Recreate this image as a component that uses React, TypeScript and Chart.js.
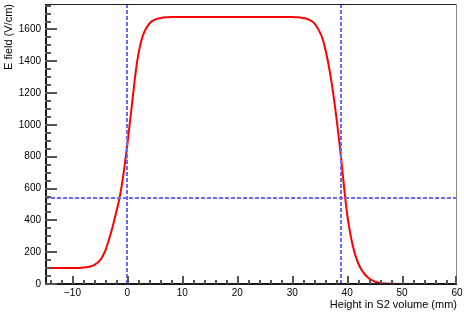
import React, { useEffect, useRef } from "react";
import { Chart, registerables } from "chart.js";

Chart.register(...registerables);

// Field profile (x in mm, E in V/cm)
const heightMm = [-15, -12, -10, -9, -8, -7, -6, -5, -4.5, -4, -3.5, -3, -2.5, -2, -1.5, -1, -0.5, 0, 0.5, 1, 1.5, 2, 2.5, 3, 3.5, 4, 4.5, 5, 6, 7, 8, 10, 15, 20, 25, 28, 30, 31, 32, 33, 34, 35, 35.5, 36, 36.5, 37, 37.5, 38, 38.5, 39, 39.5, 40, 40.5, 41, 41.5, 42, 42.5, 43, 43.5, 44, 44.5, 45, 46, 47, 48, 50, 55, 60];
const fieldVcm = [100, 100, 100, 101, 103, 108, 120, 148, 175, 212, 262, 320, 385, 455, 530, 625, 745, 880, 1030, 1180, 1330, 1445, 1525, 1578, 1612, 1637, 1652, 1662, 1671, 1676, 1678, 1679, 1679, 1679, 1679, 1679, 1678, 1676, 1671, 1662, 1640, 1585, 1545, 1480, 1400, 1302, 1190, 1060, 915, 760, 590, 440, 330, 245, 180, 132, 96, 70, 50, 35, 24, 16, 7, 3, 1, 0, 0, 0];

// Reference marker lines
const markerX = [0, 38.8];
const markerY = [543];

// Axes
const xMin = -15;
const xMax = 60;
const yMin = 0;
const yMax = 1760;
const xTickValues = [-10, 0, 10, 20, 30, 40, 50, 60];
const xTickLabels = ["\u221210", "0", "10", "20", "30", "40", "50", "60"];
const yTickValues = [0, 200, 400, 600, 800, 1000, 1200, 1400, 1600];
const yTickLabels = ["0", "200", "400", "600", "800", "1000", "1200", "1400", "1600"];
const xMinorTicks = [-14, -12, -10, -8, -6, -4, -2, 0, 2, 4, 6, 8, 10, 12, 14, 16, 18, 20, 22, 24, 26, 28, 30, 32, 34, 36, 38, 40, 42, 44, 46, 48, 50, 52, 54, 56, 58, 60];
const yMinorTicks = [0, 50, 100, 150, 200, 250, 300, 350, 400, 450, 500, 550, 600, 650, 700, 750, 800, 850, 900, 950, 1000, 1050, 1100, 1150, 1200, 1250, 1300, 1350, 1400, 1450, 1500, 1550, 1600, 1650, 1700, 1750];
const xTitle = "Height in S2 volume (mm)";
const yTitle = "E field (V/cm)";

const FONT = "'Liberation Sans', Arial, Helvetica, sans-serif";

function drawOverlay(chart: any) {
  const ctx: CanvasRenderingContext2D = chart.ctx;
  const ca = chart.chartArea;
  const xs = chart.scales["x"];
  const ys = chart.scales["y"];
  const L = Math.round(ca.left);
  const R = Math.round(ca.right);
  const T = Math.round(ca.top);
  const B = Math.round(ca.bottom);
  ctx.save();
  ctx.setLineDash([]);
  ctx.globalAlpha = 1;

  // dashed marker lines
  ctx.fillStyle = "rgb(105,105,255)";
  const dash = 4;
  const gap = 2;
  markerX.forEach((mx) => {
    const px = Math.round(xs.getPixelForValue(mx)) - 1;
    for (let y = T; y < B; y += dash + gap) {
      ctx.fillRect(px, y, 2, Math.min(dash, B - y));
    }
  });
  markerY.forEach((my) => {
    const py = Math.round(ys.getPixelForValue(my)) - 1;
    for (let x = L; x < R; x += dash + gap) {
      ctx.fillRect(x, py, Math.min(dash, R - x), 2);
    }
  });

  // frame
  ctx.fillStyle = "#222222";
  ctx.fillRect(L, T, R - L, 1);
  ctx.fillStyle = "#888888";
  ctx.fillRect(R - 1, T, 1, B - T);
  ctx.fillStyle = "#1a1a1a";
  ctx.fillRect(L, T, 2, B - T + 1);
  ctx.fillRect(L, B - 1, R - L, 2);

  // inward tick marks
  ctx.fillStyle = "#555555";
  for (let i = 0; i < xMinorTicks.length; i++) {
    const v = xMinorTicks[i];
    const px = Math.round(xs.getPixelForValue(v));
    const len = xTickValues.indexOf(v) >= 0 ? 8 : 4;
    ctx.fillRect(Math.min(px, R - 2), B - len, 2, len);
  }
  for (let i = 0; i < yMinorTicks.length; i++) {
    const v = yMinorTicks[i];
    const py = Math.round(ys.getPixelForValue(v));
    const len = yTickValues.indexOf(v) >= 0 ? 12 : 6;
    ctx.fillRect(L, py - 1, len, 2);
  }
  ctx.restore();
}

const overlayPlugin = {
  id: "rootOverlay",
  afterDraw(chart: any) {
    drawOverlay(chart);
  },
};

export default function App() {
  const ref = useRef<HTMLCanvasElement | null>(null);

  useEffect(() => {
    document.body.style.margin = "0";
    const canvas = ref.current;
    if (!canvas) return;

    const curve = heightMm.map((x, i) => ({ x, y: fieldVcm[i] }));

    const chart = new Chart(canvas, {
      type: "line",
      data: {
        datasets: [
          {
            data: curve,
            borderColor: "#ff0000",
            borderWidth: 2,
            pointRadius: 0,
            fill: false,
            cubicInterpolationMode: "monotone",
          },
        ] as any,
      },
      options: {
        animation: false,
        responsive: false,
        maintainAspectRatio: false,
        devicePixelRatio: 1,
        layout: { padding: { left: 0, right: 7, top: 4, bottom: 0 } },
        plugins: {
          legend: { display: false },
          tooltip: { enabled: false },
        },
        scales: {
          x: {
            type: "linear",
            min: xMin,
            max: xMax,
            grid: { display: false, drawTicks: false, tickLength: 0 },
            border: { display: false },
            afterBuildTicks: (s: any) => {
              s.ticks = xTickValues.map((v) => ({ value: v }));
            },
            afterFit: (s: any) => {
              s.height = 31;
              s.paddingLeft = 0;
              s.paddingRight = 0;
            },
            ticks: {
              autoSkip: false,
              maxRotation: 0,
              padding: 3,
              color: "#000",
              font: { family: FONT, size: 10 },
              callback: (v: any) => {
                const i = xTickValues.indexOf(Number(v));
                return i >= 0 ? xTickLabels[i] : "";
              },
            },
            title: {
              display: true,
              text: xTitle,
              align: "end",
              color: "#000",
              font: { family: FONT, size: 11 },
              padding: { top: 0, bottom: 3 },
            },
          },
          y: {
            type: "linear",
            min: yMin,
            max: yMax,
            grid: { display: false, drawTicks: false, tickLength: 0 },
            border: { display: false },
            afterBuildTicks: (s: any) => {
              s.ticks = yTickValues.map((v) => ({ value: v }));
            },
            afterFit: (s: any) => {
              s.width = 45;
              s.paddingTop = 0;
              s.paddingBottom = 0;
            },
            ticks: {
              autoSkip: false,
              padding: 4,
              color: "#000",
              font: { family: FONT, size: 10 },
              callback: (v: any) => {
                const i = yTickValues.indexOf(Number(v));
                return i >= 0 ? yTickLabels[i] : "";
              },
            },
            title: {
              display: true,
              text: yTitle,
              align: "end",
              color: "#000",
              font: { family: FONT, size: 11 },
              padding: { top: 2, bottom: 0 },
            },
          },
        },
      } as any,
      plugins: [overlayPlugin],
    });
    return () => chart.destroy();
  }, []);

  return (
    <div style={{ position: "fixed", left: 0, top: 0, width: 464, height: 315, background: "#fff" }}>
      <canvas ref={ref} width={464} height={315} style={{ width: 464, height: 315, display: "block" }} />
    </div>
  );
}
